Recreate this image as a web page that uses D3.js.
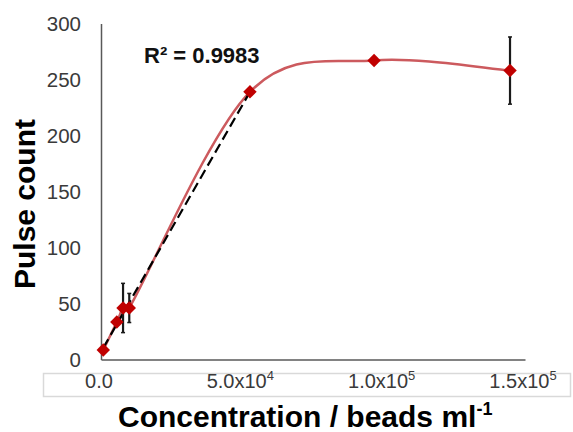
<!DOCTYPE html>
<html>
<head>
<meta charset="utf-8">
<script src="https://cdn.jsdelivr.net/npm/d3@7/dist/d3.min.js"></script>
<style>
  body { margin: 0; background: #fff; }
  text { font-family: "Liberation Sans", Arial, sans-serif; }
</style>
</head>
<body>
<script>
// bead concentration vs pulse count
var conc = [800, 5600, 7800, 10000, 52700, 96600, 144700],
	pulses = [8.5, 33.5, 46, 46, 239, 267, 258],
	errs = [0, 0, 22, 13, 0, 0, 30];

// linear range used for the fit (first five points)
var fitCount = 5,
	r2Label = 'R² = 0.9983';

var yTicks = [0, 50, 100, 150, 200, 250, 300],
	xTicks = [0, 50000, 100000, 150000],
	xTickBase = ['0.0', '5.0x10', '1.0x10', '1.5x10'],
	xTickExp = ['', '4', '5', '5'];

var width = 573,
	height = 432;

var x = d3.scaleLinear()
	.domain([0, 150000])
	.range([101, 525]);

var y = d3.scaleLinear()
	.domain([0, 300])
	.range([359.5, 23.5]);

var svg = d3.select('body')
	.append('svg')
	.attr('width', width)
	.attr('height', height);

// box behind the x tick labels
svg.append('rect')
	.attr('x', 43.5)
	.attr('y', 373.5)
	.attr('width', 527)
	.attr('height', 23)
	.attr('fill', 'none')
	.attr('stroke', '#d9d9d9')
	.attr('stroke-width', 1.5);

// axes
var yAxis = svg.append('g')
	.attr('transform', 'translate(' + x(0) + ',0)')
	.call(d3.axisLeft(y).tickValues(yTicks).tickSize(0).tickPadding(20));

var xAxis = svg.append('g')
	.attr('transform', 'translate(0,' + y(0) + ')')
	.call(d3.axisBottom(x).tickValues(xTicks).tickSize(0).tickFormat(''));

svg.selectAll('.domain')
	.attr('stroke', '#595959')
	.attr('stroke-width', 1.5);

yAxis.selectAll('text')
	.attr('font-size', 20.5)
	.attr('fill', '#3a3a3a')
	.attr('font-family', '"Liberation Sans", Arial, sans-serif');

// x tick labels with superscript powers
var xLab = svg.append('g').selectAll('text')
	.data(xTicks)
	.enter().append('text')
	.attr('x', function(d) { return x(d) - 2; })
	.attr('y', 388)
	.attr('text-anchor', 'middle')
	.attr('font-size', 20)
	.attr('fill', '#3a3a3a');

xLab.append('tspan')
	.text(function(d, i) { return xTickBase[i]; });
xLab.append('tspan')
	.attr('dy', -8)
	.attr('font-size', 13)
	.text(function(d, i) { return xTickExp[i]; });

// excel style smoothing: catmull-rom beziers, arms capped at half a segment
function smoothPath(pts) {
	var p = d3.path();
	function arm(a, b, c, d) {
		var seg = Math.hypot(c[0] - b[0], c[1] - b[1]),
			span = Math.hypot(d[0] - a[0], d[1] - a[1]);
		var f = span > 0 ? Math.min(1 / 6, seg / 2 / span) : 0;
		return [(d[0] - a[0]) * f, (d[1] - a[1]) * f];
	}
	p.moveTo(pts[0][0], pts[0][1]);
	for (var i = 0; i < pts.length - 1; i++) {
		var p0 = pts[Math.max(i - 1, 0)],
			p1 = pts[i],
			p2 = pts[i + 1],
			p3 = pts[Math.min(i + 2, pts.length - 1)];
		var a1 = arm(p0, p1, p2, p2),
			a2 = arm(p1, p1, p2, p3);
		p.bezierCurveTo(p1[0] + a1[0], p1[1] + a1[1], p2[0] - a2[0], p2[1] - a2[1], p2[0], p2[1]);
	}
	return p.toString();
}

var pts = pulses.map(function(d, i) { return [x(conc[i]), y(d)]; });

svg.append('path')
	.attr('d', smoothPath(pts))
	.attr('fill', 'none')
	.attr('stroke', '#cc5a5e')
	.attr('stroke-width', 2.5);

// least squares fit over the linear range
var fx = conc.slice(0, fitCount),
	fy = pulses.slice(0, fitCount),
	mx = d3.mean(fx),
	my = d3.mean(fy),
	slope = d3.sum(fx, function(d, i) { return (d - mx) * (fy[i] - my); }) /
		d3.sum(fx, function(d) { return (d - mx) * (d - mx); }),
	icpt = my - slope * mx;

svg.append('line')
	.attr('x1', x(fx[0]))
	.attr('y1', y(icpt + slope * fx[0]))
	.attr('x2', x(fx[fitCount - 1]))
	.attr('y2', y(icpt + slope * fx[fitCount - 1]))
	.attr('stroke', '#000')
	.attr('stroke-width', 2.2)
	.attr('stroke-dasharray', '10,5');

// error bars
var withErr = pulses.map(function(d, i) { return i; })
	.filter(function(i) { return errs[i] > 0; });

var eb = svg.append('g').selectAll('g')
	.data(withErr)
	.enter().append('g')
	.attr('stroke', '#1a1a1a');

eb.append('line')
	.attr('x1', function(i) { return x(conc[i]); })
	.attr('x2', function(i) { return x(conc[i]); })
	.attr('y1', function(i) { return y(pulses[i] - errs[i]); })
	.attr('y2', function(i) { return y(pulses[i] + errs[i]); })
	.attr('stroke-width', 2.2);

eb.selectAll('.cap')
	.data(function(i) { return [[i, -1], [i, 1]]; })
	.enter().append('line')
	.attr('x1', function(d) { return x(conc[d[0]]) - 2; })
	.attr('x2', function(d) { return x(conc[d[0]]) + 2; })
	.attr('y1', function(d) { return y(pulses[d[0]] + d[1] * errs[d[0]]); })
	.attr('y2', function(d) { return y(pulses[d[0]] + d[1] * errs[d[0]]); })
	.attr('stroke-width', 1.5);

// markers
var diamond = d3.symbol().type(d3.symbolDiamond2).size(115);

svg.append('g').selectAll('path')
	.data(pulses)
	.enter().append('path')
	.attr('d', diamond)
	.attr('transform', function(d, i) { return 'translate(' + x(conc[i]) + ',' + y(d) + ')'; })
	.attr('fill', '#c00000');

// labels
svg.append('text')
	.attr('x', 144)
	.attr('y', 63)
	.attr('font-size', 22)
	.attr('font-weight', 'bold')
	.attr('fill', '#111')
	.text(r2Label);

svg.append('text')
	.attr('transform', 'translate(35,204) rotate(-90)')
	.attr('text-anchor', 'middle')
	.attr('font-size', 30)
	.attr('font-weight', 'bold')
	.attr('fill', '#000')
	.text('Pulse count');

var xt = svg.append('text')
	.attr('x', 118)
	.attr('y', 427)
	.attr('font-size', 30)
	.attr('font-weight', 'bold')
	.attr('fill', '#000');
xt.append('tspan').text('Concentration / beads ml');
xt.append('tspan').attr('dy', -12).attr('font-size', 18).text('-1');
</script>
</body>
</html>
